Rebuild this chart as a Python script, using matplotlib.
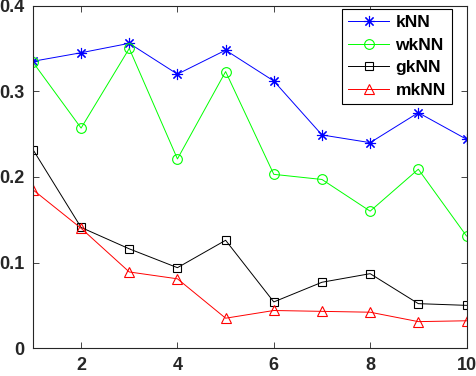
import matplotlib
matplotlib.use('Agg')
import matplotlib.pyplot as plt

# values
k_values = [1, 2, 3, 4, 5, 6, 7, 8, 9, 10]
knn = [0.335, 0.345, 0.356, 0.320, 0.348, 0.312, 0.249, 0.240, 0.275, 0.244]
wknn = [0.334, 0.257, 0.350, 0.221, 0.323, 0.203, 0.197, 0.160, 0.209, 0.131]
gknn = [0.232, 0.141, 0.116, 0.094, 0.126, 0.054, 0.077, 0.087, 0.052, 0.050]
mknn = [0.185, 0.140, 0.089, 0.081, 0.035, 0.044, 0.043, 0.042, 0.031, 0.032]

plt.rcParams['font.family'] = ['Liberation Sans', 'DejaVu Sans']
plt.rcParams['font.weight'] = 'bold'

fig = plt.figure(figsize=(4.77, 3.76), dpi=100)
ax = fig.add_axes([0.069, 0.074, 0.909, 0.911])

# matlab style asterisk = plus and cross together
ax.plot(k_values, knn, color='blue', marker=(8, 2, 0), markersize=8, mew=0.8, lw=0.7, label='kNN')
ax.plot(k_values, wknn, color='#00ff00', marker='o', markersize=7, mew=0.8, lw=0.7, mfc='none', label='wkNN')
ax.plot(k_values, gknn, color='black', marker='s', markersize=5.5, mew=0.8, lw=0.7, mfc='none', label='gkNN')
ax.plot(k_values, mknn, color='red', marker='^', markersize=7, mew=0.8, lw=0.7, mfc='none', label='mkNN')

ax.set_xlim(1, 10)
ax.set_ylim(0, 0.4)
ax.set_xticks([2, 4, 6, 8, 10])
ax.set_yticks([0, 0.1, 0.2, 0.3, 0.4])
ax.set_yticklabels(['0', '0.1', '0.2', '0.3', '0.4'])
ax.tick_params(direction='in', top=True, right=True, labelsize=13, length=4, width=0.6,
               colors='#262626', pad=6)
for lbl in ax.get_xticklabels() + ax.get_yticklabels():
    lbl.set_fontweight('bold')
for sp in ax.spines.values():
    sp.set_color('#262626')
    sp.set_linewidth(0.8)

leg = ax.legend(loc='upper right', bbox_to_anchor=(0.966, 0.99), fancybox=False,
                edgecolor='black', framealpha=1,
                prop={'weight': 'bold', 'size': 12.5}, handlelength=2.4, handletextpad=0.35,
                borderaxespad=0, labelspacing=0.42, borderpad=0.35)
leg.get_frame().set_linewidth(0.8)

plt.savefig('out.png', dpi=100)
